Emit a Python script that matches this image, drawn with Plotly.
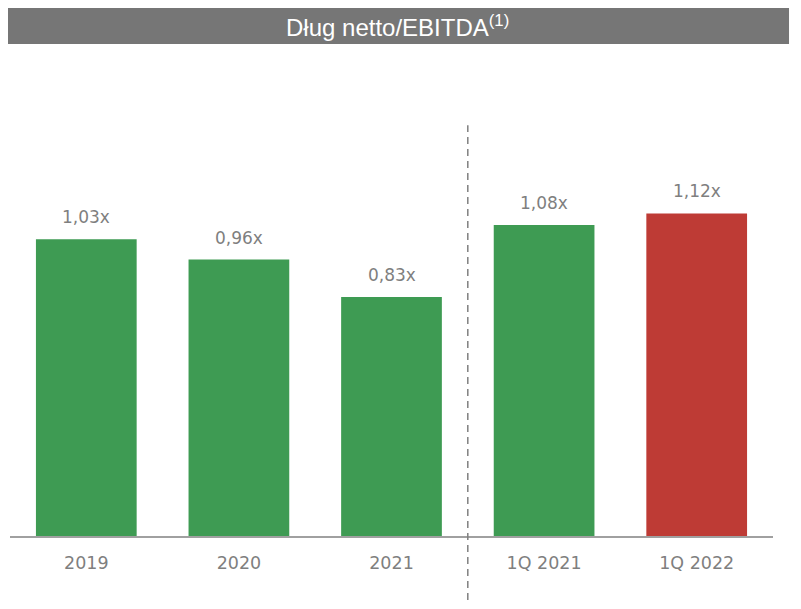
import plotly.graph_objects as go

categories = ["2019", "2020", "2021", "1Q 2021", "1Q 2022"]
values = [1.03, 0.96, 0.83, 1.08, 1.12]
labels = ["1,03x", "0,96x", "0,83x", "1,08x", "1,12x"]
colors = ["#3E9B53", "#3E9B53", "#3E9B53", "#3E9B53", "#BE3B35"]
title_text = "Dług netto/EBITDA<sup>(1)</sup>"

fig = go.Figure()
fig.add_trace(go.Bar(
    x=categories, y=values,
    marker=dict(color=colors, line=dict(width=0)),
    width=0.66, hoverinfo="x+y",
))

label_annotations = [
    dict(x=i, y=v, text=t, xref="x", yref="y", showarrow=False,
         xanchor="center", yanchor="bottom", yshift=10,
         font=dict(family="DejaVu Sans", size=17, color="#7F7F7F"))
    for i, (v, t) in enumerate(zip(values, labels))
]

fig.update_layout(
    width=801, height=609,
    margin=dict(l=2, r=36, t=96, b=81),
    paper_bgcolor="white", plot_bgcolor="white",
    showlegend=False,
    xaxis=dict(
        type="category",
        range=[-0.5, 4.5], showgrid=False, zeroline=False,
        showline=True, linecolor="#A0A0A0", linewidth=2,
        ticks="outside", ticklen=10, tickcolor="rgba(0,0,0,0)",
        tickfont=dict(family="DejaVu Sans", size=17.5, color="#7F7F7F"),
    ),
    yaxis=dict(range=[0, 1.5], visible=False),
    shapes=[
        dict(type="rect", xref="paper", yref="paper",
             x0=-0.0052, x1=1.021, y0=1.139, y1=1.2245,
             fillcolor="#767676", line=dict(width=0), layer="below"),
        dict(type="line", xref="x", yref="paper", x0=2.5, x1=2.5,
             y0=-0.148, y1=0.951, line=dict(color="#808080", width=1.5, dash="7px,5px")),
    ],
    annotations=label_annotations + [
        dict(text=title_text, xref="paper", yref="paper", x=0.508, y=1.1817,
             showarrow=False, xanchor="center", yanchor="middle",
             font=dict(family="Liberation Sans", size=24, color="white")),
    ],
)

fig.write_html("out.html")
